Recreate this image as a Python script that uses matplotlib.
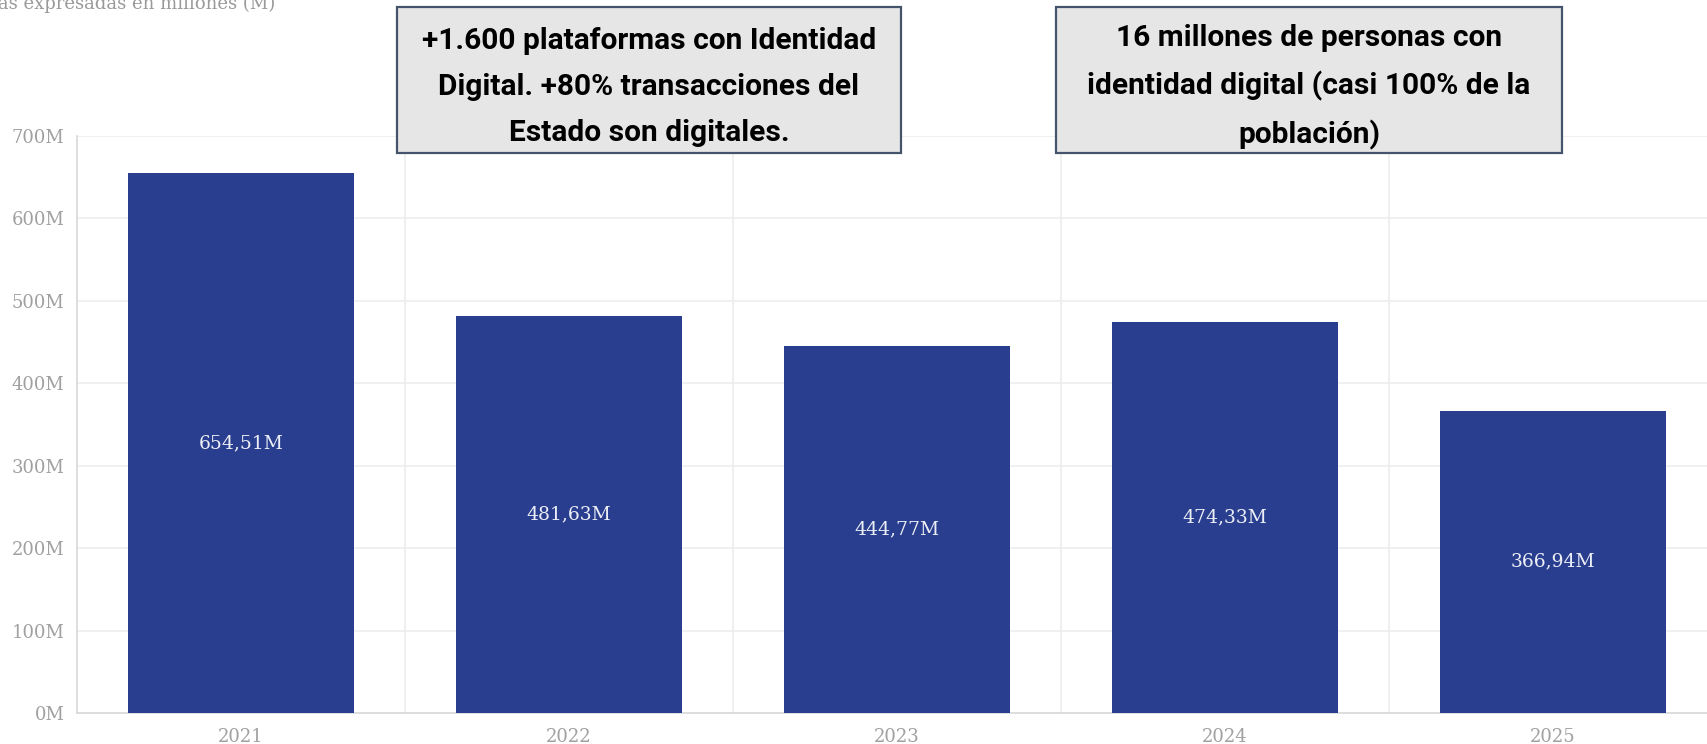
import matplotlib.pyplot as plt
from matplotlib.patches import Rectangle
from matplotlib.ticker import FixedLocator

years = ["2021", "2022", "2023", "2024", "2025"]
values = [654.51, 481.63, 444.77, 474.33, 366.94]
value_labels = ["654,51M", "481,63M", "444,77M", "474,33M", "366,94M"]
y_ticks = [0, 100, 200, 300, 400, 500, 600, 700]
y_tick_labels = ["0M", "100M", "200M", "300M", "400M", "500M", "600M", "700M"]

note_left = "+1.600 plataformas con Identidad\nDigital. +80% transacciones del\nEstado son digitales."
note_right = "16 millones de personas con\nidentidad digital (casi 100% de la\npoblación)"
subtitle = "Cifras expresadas en millones (M)"

bar_color = "#293e8e"
tick_color = "#a0a0a0"
grid_color = "#ededed"

fig = plt.figure(figsize=(17.07, 7.44), dpi=100)
ax = fig.add_axes([77 / 1707, 31 / 744, 1640 / 1707, 577 / 744])

x = list(range(len(years)))
bars = ax.bar(x, values, width=0.686, color=bar_color, zorder=3)
for rect, label in zip(bars, value_labels):
    ax.text(rect.get_x() + rect.get_width() / 2, rect.get_height() / 2, label,
            ha="center", va="center", color="#eceef6", fontsize=13.5,
            family="DejaVu Serif", zorder=4)

ax.set_xlim(-0.5, 4.5)
ax.set_ylim(0, 700)
ax.set_xticks(x)
ax.set_xticklabels(years)
ax.set_yticks(y_ticks)
ax.set_yticklabels(y_tick_labels)
ax.xaxis.set_minor_locator(FixedLocator([0.5, 1.5, 2.5, 3.5]))
ax.tick_params(axis="both", which="both", length=0, colors=tick_color, labelsize=13)
ax.tick_params(axis="y", pad=9)
ax.tick_params(axis="x", pad=11)
for lab in ax.get_xticklabels() + ax.get_yticklabels():
    lab.set_family("DejaVu Serif")

ax.grid(axis="y", which="major", color=grid_color, linewidth=1.2, zorder=0)
ax.grid(axis="x", which="minor", color=grid_color, linewidth=1.2, zorder=0)
for side in ["top", "right"]:
    ax.spines[side].set_visible(False)
for side in ["left", "bottom"]:
    ax.spines[side].set_color("#d8d8d8")
    ax.spines[side].set_linewidth(1.2)

# texto cortado arriba a la izquierda, como en la imagen original
fig.text(275 / 1707, 735 / 744, subtitle, ha="right", va="baseline",
         color="#9a9a9a", fontsize=13, family="DejaVu Serif")

# recuadros de anotacion
for x0, w, note in [(397, 504, note_left), (1056, 506, note_right)]:
    fig.patches.append(Rectangle((x0 / 1707, 591 / 744), w / 1707, 146 / 744,
                                 transform=fig.transFigure, facecolor="#e6e6e6",
                                 edgecolor="#44546a", linewidth=1.6, zorder=5))
    fig.text((x0 + w / 2) / 1707, 657 / 744, note, ha="center", va="center",
             fontsize=21.5, fontweight="bold", family="Roboto", color="black",
             linespacing=1.8, zorder=6)

fig.savefig("out.png", dpi=100)
